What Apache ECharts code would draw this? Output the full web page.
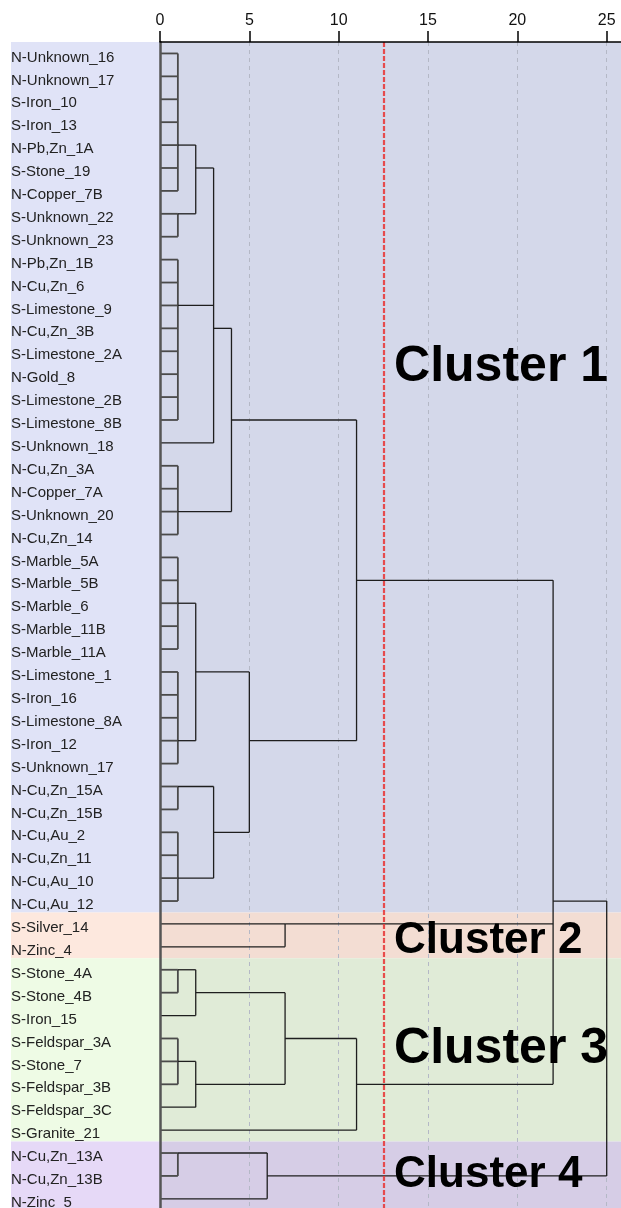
<!DOCTYPE html>
<html><head><meta charset="utf-8">
<script src="https://cdn.jsdelivr.net/npm/echarts@6/dist/echarts.min.js"></script>
<style>html,body{margin:0;padding:0;background:#fff}#c{width:621px;height:1208px}</style>
</head><body><div id="c"></div>
<script>
// ---- data ----
const leafNames = [
  'N-Unknown_16','N-Unknown_17','S-Iron_10','S-Iron_13','N-Pb,Zn_1A','S-Stone_19','N-Copper_7B',
  'S-Unknown_22','S-Unknown_23','N-Pb,Zn_1B','N-Cu,Zn_6','S-Limestone_9','N-Cu,Zn_3B','S-Limestone_2A',
  'N-Gold_8','S-Limestone_2B','S-Limestone_8B','S-Unknown_18','N-Cu,Zn_3A','N-Copper_7A','S-Unknown_20',
  'N-Cu,Zn_14','S-Marble_5A','S-Marble_5B','S-Marble_6','S-Marble_11B','S-Marble_11A','S-Limestone_1',
  'S-Iron_16','S-Limestone_8A','S-Iron_12','S-Unknown_17','N-Cu,Zn_15A','N-Cu,Zn_15B','N-Cu,Au_2',
  'N-Cu,Zn_11','N-Cu,Au_10','N-Cu,Au_12','S-Silver_14','N-Zinc_4','S-Stone_4A','S-Stone_4B','S-Iron_15',
  'S-Feldspar_3A','S-Stone_7','S-Feldspar_3B','S-Feldspar_3C','S-Granite_21','N-Cu,Zn_13A','N-Cu,Zn_13B',
  'N-Zinc_5'
];
const axisTicks = [0, 5, 10, 15, 20, 25];
const cutHeight = 12.5;
const clusterNames = ['Cluster 1', 'Cluster 2', 'Cluster 3', 'Cluster 4'];
const clusterFirstLeaf = [1, 39, 41, 49];
const clusterLastLeaf = [38, 40, 48, 51];
// merges: id, rescaled distance, row where the merged cluster's line leaves, children (leaf row numbers or merge ids)
const mergeIds     = ['A','B','C','D','E','F','G','I','J','K','M','N','L','H','G2','P','U','V','W','X','Y','Z','Q','S','T','R'];
const mergeHeights = [ 1,  1,  2,  1,  3,  1,  4,  1,  1,  2,  1,  1,  3,  5,  11,  7,  1,  2,  1,  2,  7, 11, 22,  1,  6, 25];
const mergeRows    = [ 5,  8,  6, 12, 13, 21, 17, 25, 31, 28, 33, 37, 35, 31,  24, 39, 41, 42, 45, 46, 44, 46, 38, 49, 50, 44];
const mergeChildren = [
  [1,2,3,4,5,6,7], [8,9], ['A','B'], [10,11,12,13,14,15,16,17], ['C','D',18], [19,20,21,22], ['E','F'],
  [23,24,25,26,27], [28,29,30,31,32], ['I','J'], [33,34], [35,36,37,38], ['M','N'], ['K','L'], ['G','H'],
  [39,40], [41,42], ['U',43], [44,45,46], ['W',47], ['V','X'], ['Y',48], ['G2','P','Z'],
  [49,50], ['S',51], ['Q','T']
];

// ---- layout / style ----
const FONT = '"Liberation Sans", Arial, sans-serif';
const X_MAX = 25.8, Y_MIN = 0.5, Y_MAX = 51.4;
const LABEL_LEFT = 11;
const LABEL_DY = 4; // leaf labels sit slightly below their branch line (px)
const bandPlot = ['#d4d8ea', '#f3ddd3', '#e0ebd7', '#d6cde6'];
const bandLabel = ['#e0e3f7', '#fde8de', '#eefbe5', '#e6d9f7'];
const clusterFont = [50, 44, 50, 44];
const clusterLabelPos = [[13.1, 14.7], [13.1, 39.75], [13.1, 44.45], [13.1, 49.95]];

// ---- build segments from the merge table ----
const nodeInfo = {};
mergeIds.forEach((id, i) => nodeInfo[id] = { h: mergeHeights[i], row: mergeRows[i] });
const childPos = c => typeof c === 'number' ? { h: 0, row: c } : nodeInfo[c];
const segs = [];
mergeIds.forEach((id, i) => {
  const h = mergeHeights[i];
  const kids = mergeChildren[i].map(childPos);
  const rows = kids.map(k => k.row);
  segs.push([h, Math.min(...rows), h, Math.max(...rows)]);
  kids.forEach(k => segs.push([k.h, k.row, h, k.row]));
});

const chart = echarts.init(document.getElementById('c'), null, { renderer: 'canvas' });
chart.setOption({
  animation: false,
  backgroundColor: '#ffffff',
  grid: { left: 160, right: 0, top: 42, bottom: 0, containLabel: false },
  xAxis: {
    type: 'value', position: 'top', min: 0, max: X_MAX, interval: 5, z: 50,
    axisLine: { show: true, lineStyle: { color: '#000', width: 1.5 } },
    axisTick: { show: true, length: 11, customValues: axisTicks, lineStyle: { color: '#000', width: 1.5 } },
    axisLabel: { customValues: axisTicks, fontSize: 16, color: '#111', fontFamily: FONT, margin: 13 },
    splitLine: { show: false }
  },
  yAxis: {
    type: 'value', inverse: true, min: Y_MIN, max: Y_MAX, z: 50,
    axisLine: { show: true, lineStyle: { color: '#555', width: 2.5 } },
    axisTick: { show: false },
    splitLine: { show: false },
    axisLabel: { show: false }
  },
  series: [
    {
      type: 'custom', z: 1, clip: false, silent: true,
      data: clusterNames.map((n, i) => [0, clusterFirstLeaf[i] - 0.5, X_MAX, clusterLastLeaf[i] + 0.5, i]),
      encode: { x: [0, 2], y: [1, 3] },
      renderItem: (params, api) => {
        const p1 = api.coord([api.value(0), api.value(1)]);
        const p2 = api.coord([api.value(2), api.value(3)]);
        const i = api.value(4);
        return { type: 'group', children: [
          { type: 'rect', shape: { x: LABEL_LEFT, y: p1[1], width: p1[0] - LABEL_LEFT, height: p2[1] - p1[1] }, style: { fill: bandLabel[i] } },
          { type: 'rect', shape: { x: p1[0], y: p1[1], width: p2[0] - p1[0], height: p2[1] - p1[1] }, style: { fill: bandPlot[i] } }
        ]};
      },
      markLine: {
        silent: true, symbol: 'none', z: 3, label: { show: false },
        lineStyle: { color: '#b4b8c6', width: 1, type: [4, 4] },
        data: axisTicks.filter(v => v > 0).map(v => ({ xAxis: v }))
      }
    },
    {
      type: 'custom', z: 10, clip: false, silent: true,
      data: segs,
      encode: { x: [0, 2], y: [1, 3] },
      renderItem: (params, api) => {
        const x1 = api.value(0), x2 = api.value(2);
        const p1 = api.coord([x1, api.value(1)]);
        const p2 = api.coord([x2, api.value(3)]);
        const low = Math.max(x1, x2) <= 1;
        return { type: 'line', shape: { x1: p1[0], y1: p1[1], x2: p2[0], y2: p2[1] },
          style: { stroke: low ? '#4a4a4a' : '#1e1e1e', lineWidth: low ? 1.8 : 1.3 } };
      },
      markLine: {
        silent: true, symbol: 'none', z: 20, label: { show: false },
        lineStyle: { color: 'rgba(232,60,60,0.9)', width: 2.2, type: [5, 2] },
        data: [{ xAxis: cutHeight }]
      }
    },
    {
      type: 'custom', z: 12, clip: false, silent: true,
      data: leafNames.map((n, i) => [0, i + 1, i]),
      encode: { x: 0, y: 1 },
      renderItem: (params, api) => {
        const p = api.coord([api.value(0), api.value(1)]);
        return { type: 'text', x: LABEL_LEFT, y: p[1] + LABEL_DY, style: {
          text: leafNames[api.value(2)], fill: '#222', font: '15px ' + FONT,
          textAlign: 'left', textVerticalAlign: 'middle' } };
      }
    },
    {
      type: 'custom', z: 30, clip: false, silent: true,
      data: clusterNames.map((n, i) => [clusterLabelPos[i][0], clusterLabelPos[i][1], i]),
      encode: { x: 0, y: 1 },
      renderItem: (params, api) => {
        const p = api.coord([api.value(0), api.value(1)]);
        const i = api.value(2);
        return { type: 'text', x: p[0], y: p[1], style: {
          text: clusterNames[i], fill: '#000', font: 'bold ' + clusterFont[i] + 'px ' + FONT,
          textAlign: 'left', textVerticalAlign: 'middle' } };
      }
    }
  ]
});
</script></body></html>
